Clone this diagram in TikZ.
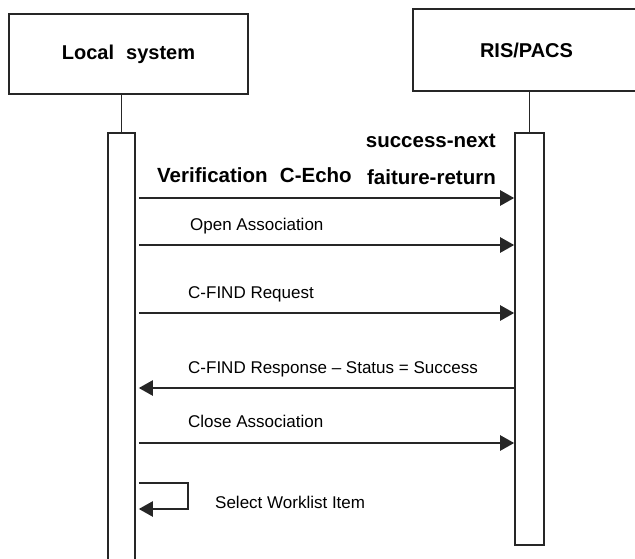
\documentclass[tikz,border=0pt]{standalone}
\usepackage{fontspec}
\setmainfont{Liberation Sans}
\usetikzlibrary{arrows.meta}
\begin{document}
\begin{tikzpicture}[x=1pt,y=-1pt,
  hdr/.style={draw=black!85, line width=1.6pt, fill=white, inner sep=0pt,
    font=\fontsize{20}{24}\selectfont\bfseries},
  bar/.style={draw=black!85, line width=1.6pt, fill=white, inner sep=0pt, minimum width=27pt},
  life/.style={draw=black!85, line width=1.6pt},
  msg/.style={draw=black!85, line width=2.3pt, -{Triangle[length=14pt,width=15pt]}},
  lbl/.style={inner sep=0pt, anchor=base west, font=\fontsize{17}{20}\selectfont},
  blbl/.style={inner sep=0pt, font=\fontsize{20.5}{24}\selectfont\bfseries}]
\path[use as bounding box, clip] (0,0) rectangle (635,558);
\fill[white] (0,0) rectangle (635,558);
% headers
\node[hdr, minimum width=239pt, minimum height=80pt] (ls) at (128.5,54) {Local\hspace{0.6em}system};
\node[hdr, minimum width=227pt, minimum height=82pt, text width=200pt, align=center] (rp) at (526.5,50) {RIS/PACS};
% activation bars
\node[bar, minimum height=437pt] (lbar) at (121.5,351.5) {};
\node[bar, minimum width=29pt, minimum height=412pt] (rbar) at (529.5,339) {};
% lifelines
\draw[life] (lbar.north) -- (lbar.north |- ls.south);
\draw[life] (rbar.north) -- (rbar.north |- rp.south);
% message rows
\coordinate (y1) at (0,198);
\coordinate (y2) at (0,245);
\coordinate (y3) at (0,313);
\coordinate (y4) at (0,388);
\coordinate (y5) at (0,443);
\coordinate (s1) at (0,483);
\coordinate (s2) at (0,509);
\draw[msg] ([xshift=3pt]lbar.east |- y1) -- (rbar.west |- y1);
\draw[msg] ([xshift=3pt]lbar.east |- y2) -- (rbar.west |- y2);
\draw[msg] ([xshift=3pt]lbar.east |- y3) -- (rbar.west |- y3);
\draw[msg] (rbar.west |- y4) -- ([xshift=3pt]lbar.east |- y4);
\draw[msg] ([xshift=3pt]lbar.east |- y5) -- (rbar.west |- y5);
\draw[msg] ([xshift=3pt]lbar.east |- s1) -- ++(49,0) |- ([xshift=3pt]lbar.east |- s2);
% labels
\node[blbl, anchor=base west] (vlab) at (157,182) {Verification\hspace{0.6em}C-Echo};
\node[blbl, anchor=base east] (snext) at (496,147) {success-next};
\node[blbl, anchor=base east] (fret) at (496,184) {faiture-return};
\node[lbl] (oa) at (190,230) {Open Association};
\node[lbl] (cfr) at (188,298) {C-FIND Request};
\node[lbl] (cfs) at (188,373) {C-FIND Response -- Status = Success};
\node[lbl] (ca) at (188,427) {Close Association};
\node[lbl] (swi) at (215,508) {Select Worklist Item};
\end{tikzpicture}
\end{document}
